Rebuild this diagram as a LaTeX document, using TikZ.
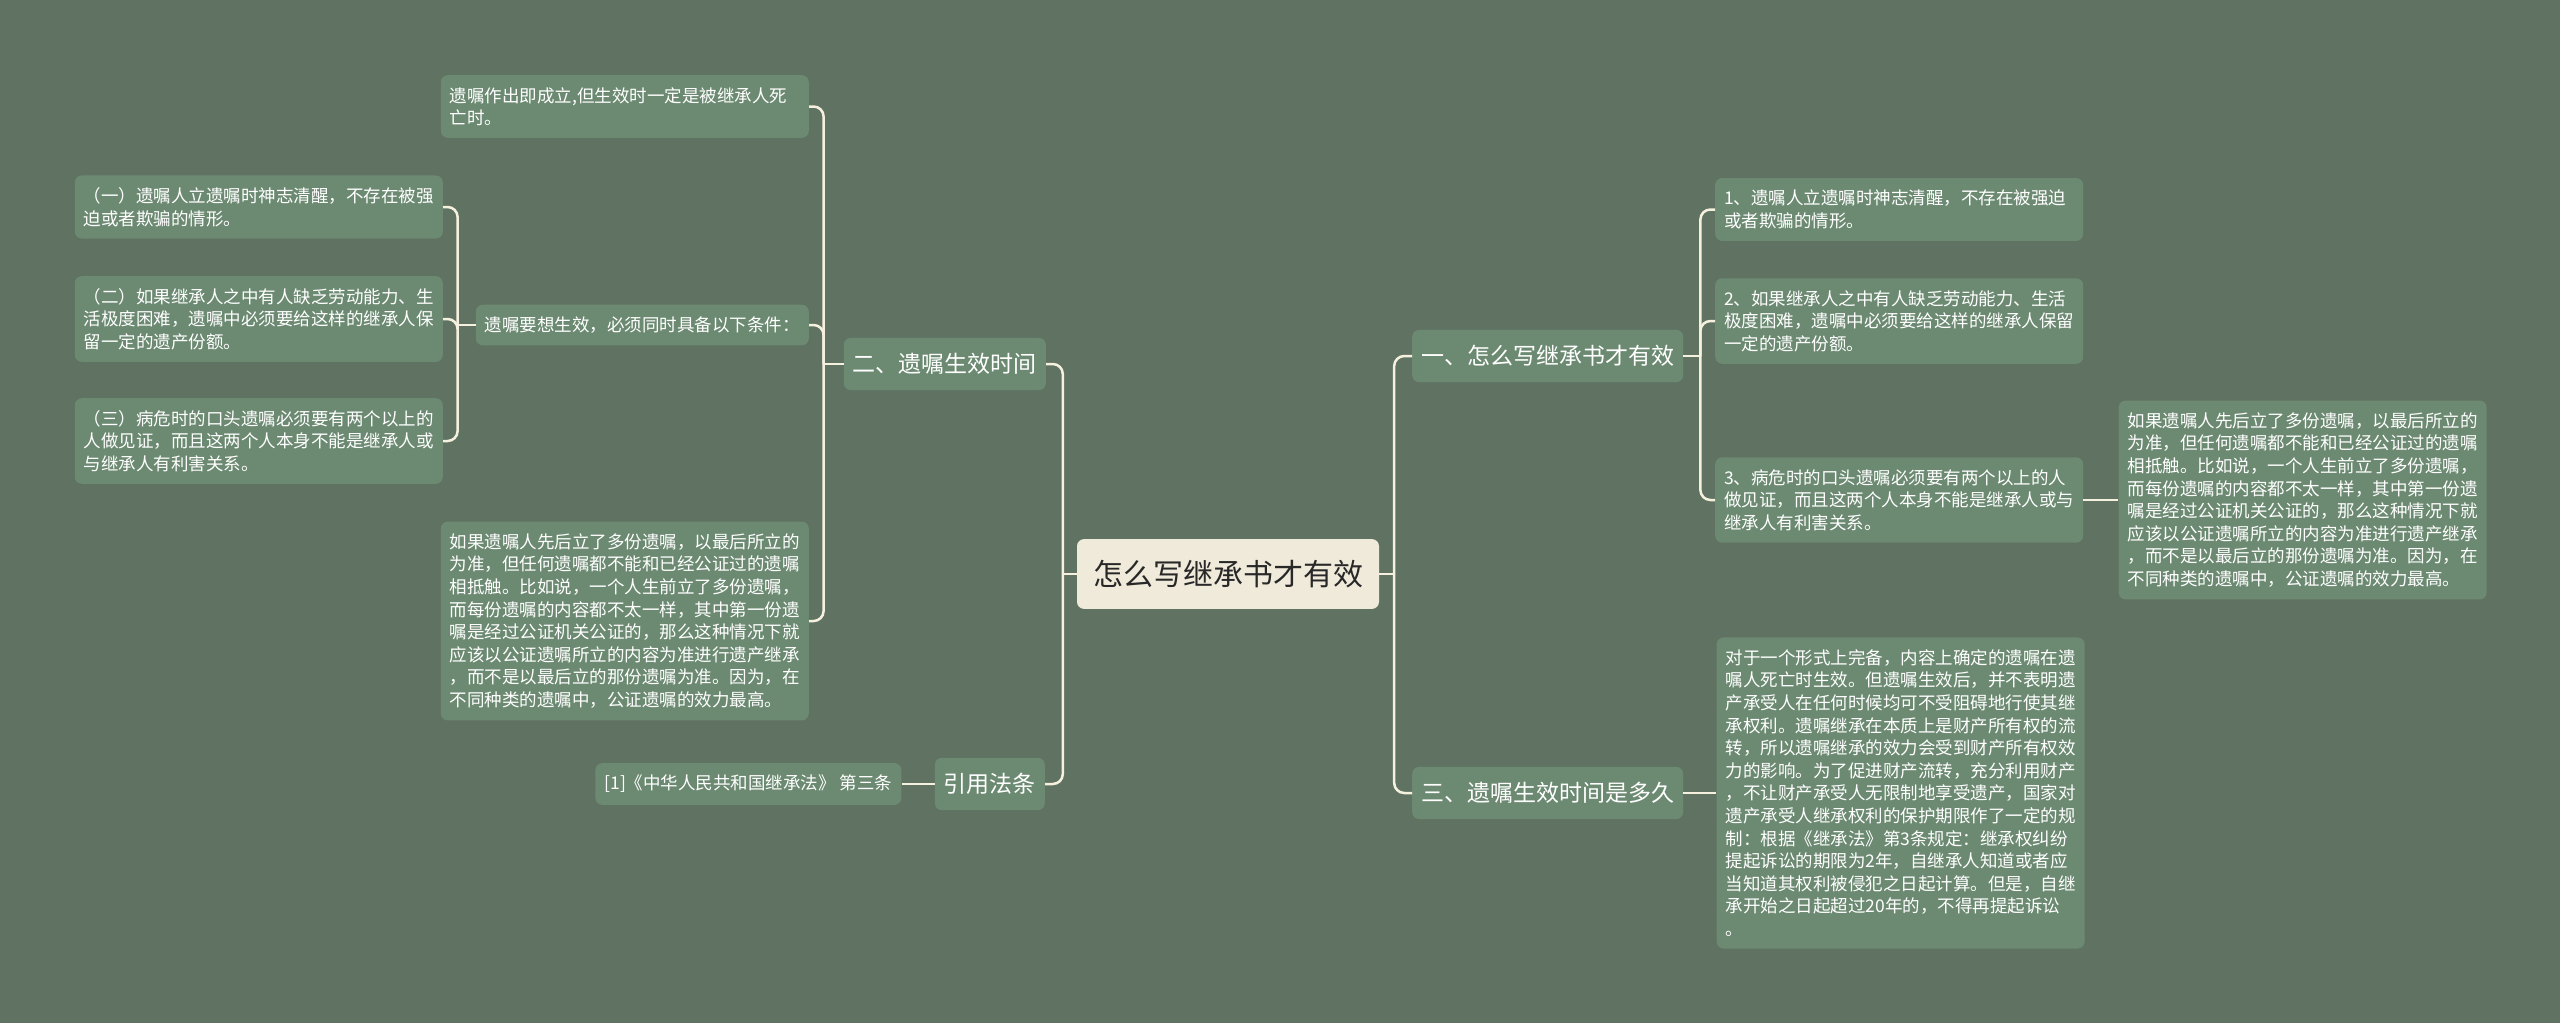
\documentclass[tikz,border=0pt]{standalone}
\usepackage{fontspec}
\setmainfont{Noto Sans CJK SC}
\usepackage{tikz}
\usepackage{xcolor}
\usetikzlibrary{positioning, calc}
\definecolor{cBg}{RGB}{96,114,98}
\definecolor{cLeaf}{RGB}{108,138,114}
\definecolor{cLine}{RGB}{246,241,223}
\definecolor{cRoot}{RGB}{239,234,218}
\definecolor{cDark}{RGB}{40,40,40}
\tikzset{
	rootbox/.style={rectangle, rounded corners=7pt, fill=cRoot, text=cDark, inner xsep=16pt, inner ysep=21pt, font=\fontsize{30}{36}\selectfont},
	mainbox/.style={rectangle, rounded corners=7pt, fill=cLeaf, text=white, inner xsep=9pt, inner ysep=15.5pt, font=\fontsize{23}{28}\selectfont},
	leafbox/.style={rectangle, rounded corners=7pt, fill=cLeaf, text=white, inner xsep=9pt, inner ysep=12pt, align=left, text width=350pt, font=\fontsize{17.5}{22.6}\selectfont},
	notebox/.style={rectangle, rounded corners=7pt, fill=cLeaf, text=white, inner xsep=9pt, inner ysep=12pt, font=\fontsize{17.5}{22.6}\selectfont},
	% connectors
	link/.style={draw=cLine, line width=2.5pt, rounded corners=10pt},
}

\begin{document}
\begin{tikzpicture}[x=1pt, y=-1pt]
	\fill[cBg] (0,0) rectangle (2560,1023);
	% root and first level
	\node[rootbox] (root) at (1228,574) {怎么写继承书才有效};
	\node[mainbox, anchor=west] (one) at (1412,356) {一、怎么写继承书才有效};
	\node[mainbox, anchor=west] (three) at (1412,793) {三、遗嘱生效时间是多久};
	\node[mainbox, anchor=east] (two) at (1046,364) {二、遗嘱生效时间};
	\node[mainbox, anchor=east] (cite) at (1045,784) {引用法条};
	% right side
	\node[leafbox, anchor=west] (a1) at (1715,209.5) {1、遗嘱人立遗嘱时神志清醒，不存在被强迫\\或者欺骗的情形。};
	\node[leafbox, anchor=west] (a2) at (1715,321) {2、如果继承人之中有人缺乏劳动能力、生活\\极度困难，遗嘱中必须要给这样的继承人保留\\一定的遗产份额。};
	\node[leafbox, anchor=west] (a3) at (1715,500) {3、病危时的口头遗嘱必须要有两个以上的人\\做见证，而且这两个人本身不能是继承人或与\\继承人有利害关系。};
	\node[leafbox, right=35pt of a3] (a3x) {如果遗嘱人先后立了多份遗嘱，以最后所立的\\为准，但任何遗嘱都不能和已经公证过的遗嘱\\相抵触。比如说，一个人生前立了多份遗嘱，\\而每份遗嘱的内容都不太一样，其中第一份遗\\嘱是经过公证机关公证的，那么这种情况下就\\应该以公证遗嘱所立的内容为准进行遗产继承\\，而不是以最后立的那份遗嘱为准。因为，在\\不同种类的遗嘱中，公证遗嘱的效力最高。};
	\node[leafbox, right=33pt of three] (threex) {对于一个形式上完备，内容上确定的遗嘱在遗\\嘱人死亡时生效。但遗嘱生效后，并不表明遗\\产承受人在任何时候均可不受阻碍地行使其继\\承权利。遗嘱继承在本质上是财产所有权的流\\转，所以遗嘱继承的效力会受到财产所有权效\\力的影响。为了促进财产流转，充分利用财产\\，不让财产承受人无限制地享受遗产，国家对\\遗产承受人继承权利的保护期限作了一定的规\\制：根据《继承法》第3条规定：继承权纠纷\\提起诉讼的期限为2年，自继承人知道或者应\\当知道其权利被侵犯之日起计算。但是，自继\\承开始之日起超过20年的，不得再提起诉讼\\。};
	% left side
	\node[leafbox, anchor=east] (tl) at (809,106.5) {遗嘱作出即成立,但生效时一定是被继承人死\\亡时。};
	\node[notebox, anchor=east] (lm) at (809,325) {遗嘱要想生效，必须同时具备以下条件：};
	\node[leafbox, anchor=east] (lb) at (809,621) {如果遗嘱人先后立了多份遗嘱，以最后所立的\\为准，但任何遗嘱都不能和已经公证过的遗嘱\\相抵触。比如说，一个人生前立了多份遗嘱，\\而每份遗嘱的内容都不太一样，其中第一份遗\\嘱是经过公证机关公证的，那么这种情况下就\\应该以公证遗嘱所立的内容为准进行遗产继承\\，而不是以最后立的那份遗嘱为准。因为，在\\不同种类的遗嘱中，公证遗嘱的效力最高。};
	\node[leafbox, anchor=east] (c1) at (443,207) {（一）遗嘱人立遗嘱时神志清醒，不存在被强\\迫或者欺骗的情形。};
	\node[leafbox, anchor=east] (c2) at (443,319) {（二）如果继承人之中有人缺乏劳动能力、生\\活极度困难，遗嘱中必须要给这样的继承人保\\留一定的遗产份额。};
	\node[leafbox, anchor=east] (c3) at (443,441) {（三）病危时的口头遗嘱必须要有两个以上的\\人做见证，而且这两个人本身不能是继承人或\\与继承人有利害关系。};
	\node[notebox, left=33pt of cite] (law) {[1]《中华人民共和国继承法》 第三条};
	% connectors
	\draw[link] (root.east) -- ++(15,0) coordinate (jr);
	\draw[link] (jr) |- (one.west);
	\draw[link] (jr) |- (three.west);
	\draw[link] (root.west) -- ++(-14,0) coordinate (jl);
	\draw[link] (jl) |- (two.east);
	\draw[link] (jl) |- (cite.east);
	\draw[link] (one.east) -- ++(17,0) coordinate (j1);
	\foreach \n in {a1,a2,a3} \draw[link] (j1) |- (\n.west);
	\draw[link] (a3.east) -- (a3x.west);
	\draw[link] (three.east) -- (threex.west);
	\draw[link] (two.west) -- ++(-20,0) coordinate (j2);
	\foreach \n in {tl,lm,lb} \draw[link] (j2) |- (\n.east);
	\draw[link] (lm.west) -- ++(-18,0) coordinate (jm);
	\foreach \n in {c1,c2,c3} \draw[link] (jm) |- (\n.east);
	\draw[link] (cite.west) -- (law.east);
\end{tikzpicture}
\end{document}
